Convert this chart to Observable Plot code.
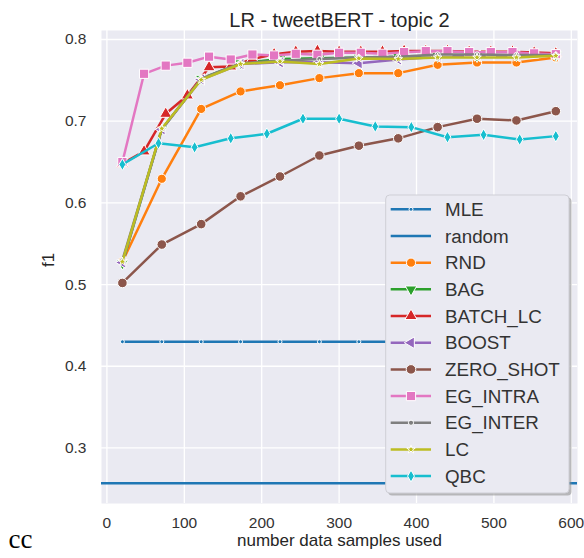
<!DOCTYPE html>
<html><head><meta charset="utf-8">
<script src="https://cdn.jsdelivr.net/npm/d3@7"></script>
<script src="https://cdn.jsdelivr.net/npm/@observablehq/plot@0.6"></script>
<style>
body{margin:0;background:#fff}
#chart{position:relative;width:584px;height:558px}
</style>
</head><body><div id="chart"></div>
<script>
// ---- data ----
const titleText = "LR - tweetBERT - topic 2";
const xLabel = "number data samples used";
const yLabel = "f1";
const cornerNote = "cc";
const xTicks = [0, 100, 200, 300, 400, 500, 600];
const yTicks = [0.3, 0.4, 0.5, 0.6, 0.7, 0.8];

const x12 = [20, 70.9, 121.8, 172.7, 223.6, 274.5, 325.5, 376.4, 427.3, 478.2, 529.1, 580];
const x13 = [20, 66.7, 113.3, 160, 206.7, 253.3, 300, 346.7, 393.3, 440, 486.7, 533.3, 580];
const x21 = [20, 48, 76, 104, 132, 160, 188, 216, 244, 272, 300, 328, 356, 384, 412, 440, 468, 496, 524, 552, 580];

const methods = ["MLE", "random", "RND", "BAG", "BATCH_LC", "BOOST", "ZERO_SHOT", "EG_INTRA", "EG_INTER", "LC", "QBC"];
const colors  = ["#1f77b4", "#1f77b4", "#ff7f0e", "#2ca02c", "#d62728", "#9467bd", "#8c564b", "#e377c2", "#7f7f7f", "#bcbd22", "#17becf"];

const mleY = [0.430, 0.430, 0.430, 0.430, 0.430, 0.430, 0.430, 0.430, 0.430, 0.430, 0.430, 0.430];
const randomY = 0.2568;
const rndY = [0.528, 0.6295, 0.715, 0.7364, 0.744, 0.7527, 0.7588, 0.7588, 0.769, 0.7718, 0.7718, 0.778];
const bagY = [0.526, 0.690, 0.752, 0.771, 0.776, 0.777, 0.778, 0.779, 0.780, 0.780, 0.781, 0.781];
const batchLcY = [0.648, 0.663, 0.709, 0.7315, 0.766, 0.767, 0.776, 0.782, 0.785, 0.786, 0.785, 0.785, 0.785, 0.786, 0.786, 0.786, 0.785, 0.785, 0.785, 0.784, 0.783];
const boostY = [0.527, 0.690, 0.751, 0.770, 0.772, 0.772, 0.771, 0.7755, 0.779, 0.780, 0.780, 0.781];
const zeroShotY = [0.502, 0.549, 0.574, 0.608, 0.6323, 0.658, 0.670, 0.679, 0.6927, 0.703, 0.7009, 0.7122];
const egIntraY = [0.650, 0.758, 0.768, 0.7715, 0.779, 0.7755, 0.7816, 0.7804, 0.7825, 0.7813, 0.7837, 0.7837, 0.7825, 0.7845, 0.7857, 0.7857, 0.7845, 0.7845, 0.7845, 0.7830, 0.7820];
const egInterY = [0.530, 0.690, 0.752, 0.771, 0.774, 0.776, 0.778, 0.779, 0.7816, 0.7816, 0.781, 0.781];
const lcY = [0.528, 0.691, 0.7507, 0.770, 0.773, 0.770, 0.7768, 0.776, 0.778, 0.778, 0.778, 0.780];
const qbcY = [0.647, 0.673, 0.668, 0.679, 0.6846, 0.703, 0.703, 0.6935, 0.6927, 0.6804, 0.6833, 0.6776, 0.6817];

// ---- styling per method ----
const style = {
  MLE:       {xs: x12, ys: mleY,      symbol: "circle",   r: 2,   rotate: 0},
  RND:       {xs: x12, ys: rndY,      symbol: "circle",   r: 4.6, rotate: 0},
  BAG:       {xs: x12, ys: bagY,      symbol: "triangle", r: 4.3, rotate: 180},
  BATCH_LC:  {xs: x21, ys: batchLcY,  symbol: "triangle", r: 4.5, rotate: 0},
  BOOST:     {xs: x12, ys: boostY,    symbol: "triangle", r: 4.3, rotate: -90},
  ZERO_SHOT: {xs: x12, ys: zeroShotY, symbol: "circle",   r: 4.8, rotate: 0},
  EG_INTRA:  {xs: x21, ys: egIntraY,  symbol: "square",   r: 5.2, rotate: 0},
  EG_INTER:  {xs: x12, ys: egInterY,  symbol: "circle",   r: 2.6, rotate: 0},
  LC:        {xs: x12, ys: lcY,       symbol: "star",     r: 2.7, rotate: 0},
  QBC:       {xs: x13, ys: qbcY,      symbol: "diamond",  r: 3.6, rotate: 0}
};
const colorOf = Object.fromEntries(methods.map((m, i) => [m, colors[i]]));

const font = "'Liberation Sans', Arial, sans-serif";
const marks = [
  Plot.frame({fill: "#eaeaf2", stroke: null}),
  Plot.gridX(xTicks, {stroke: "#ffffff", strokeOpacity: 1, strokeWidth: 1.3}),
  Plot.gridY(yTicks, {stroke: "#ffffff", strokeOpacity: 1, strokeWidth: 1.3}),
  Plot.axisX(xTicks, {tickSize: 0, tickPadding: 13, fontSize: 15.5, fill: "#333", label: null}),
  Plot.axisY(yTicks, {tickSize: 0, tickPadding: 15, fontSize: 15.5, fill: "#333", label: null, tickFormat: d3.format(".1f")})
];

for (const m of methods) {
  if (m === "random") {
    marks.push(Plot.ruleY([randomY], {stroke: colorOf[m], strokeWidth: 2.5}));
    continue;
  }
  const s = style[m];
  const rows = s.xs.map((x, i) => ({x, y: s.ys[i]}));
  marks.push(Plot.line(rows, {x: "x", y: "y", stroke: colorOf[m], strokeWidth: 2.5}));
  marks.push(Plot.dot(rows, {x: "x", y: "y", symbol: s.symbol, r: s.r, rotate: s.rotate,
    fill: colorOf[m], stroke: "#ffffff", strokeWidth: 1, fillOpacity: 1}));
}

marks.push(Plot.text([titleText], {text: d => d, frameAnchor: "top", dy: -18, fontSize: 20, fill: "#262626", fontFamily: font}));
marks.push(Plot.text([xLabel], {text: d => d, frameAnchor: "bottom", dy: 42, fontSize: 17, fill: "#262626", fontFamily: font}));
marks.push(Plot.text([yLabel], {text: d => d, frameAnchor: "left", dx: -53, rotate: -90, fontSize: 17, fill: "#262626", fontFamily: font}));
marks.push(Plot.text([cornerNote], {text: d => d, frameAnchor: "bottom-left", dx: -93, dy: 44, textAnchor: "start",
  fontSize: 27, fill: "#000", fontFamily: "'Liberation Serif', 'Times New Roman', serif"}));

const chart = Plot.plot({
  width: 584, height: 558,
  marginLeft: 101, marginRight: 7, marginTop: 30, marginBottom: 55,
  style: {fontFamily: font, background: "#fff", overflow: "visible"},
  x: {domain: [-7, 608]},
  y: {domain: [0.232, 0.811]},
  marks
});
document.getElementById("chart").appendChild(chart);

// ---- legend (drawn into the same SVG) ----
const svg = d3.select(chart);
const lg = svg.append("g").attr("font-family", font).attr("text-anchor", "start");
const box = {x: 385.7, y: 195, w: 183.3, h: 298};
lg.append("rect").attr("x", box.x + 2.5).attr("y", box.y + 2.5).attr("width", box.w).attr("height", box.h)
  .attr("rx", 4).attr("fill", "#8a8a8a").attr("opacity", 0.55);
lg.append("rect").attr("x", box.x).attr("y", box.y).attr("width", box.w).attr("height", box.h)
  .attr("rx", 4).attr("fill", "#eaeaf2").attr("stroke", "#cfcfd6").attr("stroke-width", 1);
const symType = {circle: d3.symbolCircle, triangle: d3.symbolTriangle, square: d3.symbolSquare, star: d3.symbolStar, diamond: d3.symbolDiamond};
methods.forEach((m, i) => {
  const cy = 209.3 + i * 26.68;
  const g = lg.append("g");
  g.append("line").attr("x1", 390.7).attr("x2", 431).attr("y1", cy).attr("y2", cy)
    .attr("stroke", colorOf[m]).attr("stroke-width", 2.5);
  if (m !== "random") {
    const s = style[m];
    g.append("path").attr("d", d3.symbol(symType[s.symbol], Math.PI * s.r * s.r)())
      .attr("transform", `translate(411,${cy}) rotate(${s.rotate})`)
      .attr("fill", colorOf[m]).attr("stroke", "#fff").attr("stroke-width", 1);
  }
  g.append("text").attr("x", 445).attr("y", cy).attr("dy", "0.35em").attr("text-anchor", "start")
    .attr("font-size", 18.8).attr("fill", "#333").text(m);
});
</script>
</body></html>
